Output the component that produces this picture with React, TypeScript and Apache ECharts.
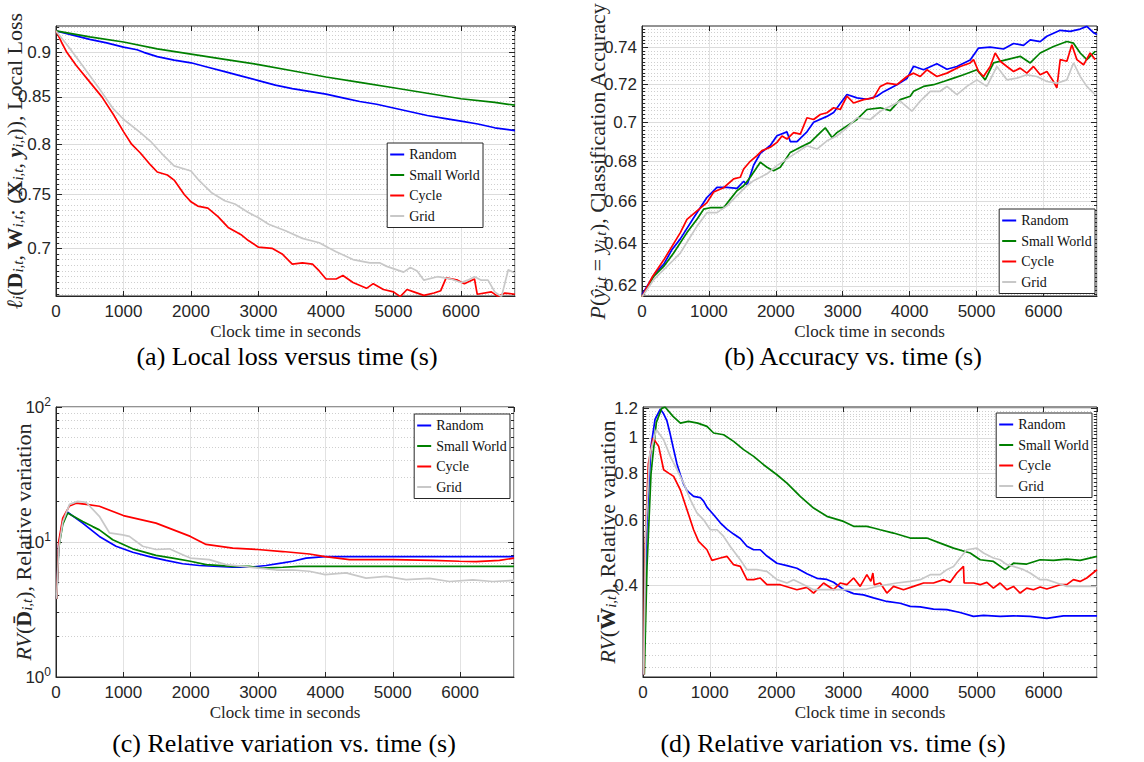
import React, { useEffect, useRef } from 'react';
import * as echarts from 'echarts';

// ---------- shared ----------
const seriesNames = ['Random', 'Small World', 'Cycle', 'Grid'];
const seriesColors = ['#0000ff', '#008000', '#ff0000', '#c8c8c8'];
const xMax = 6800;
const xTitle = 'Clock time in seconds';

// ---------- (a) local loss ----------
const lossRandom = [[0,0.925],[250,0.920],[500,0.915],[750,0.911],[1000,0.906],[1200,0.903],[1300,0.900],[1500,0.895],[1750,0.891],[2000,0.888],[2250,0.883],[2500,0.878],[2750,0.873],[3000,0.868],[3250,0.863],[3500,0.859],[3750,0.856],[4000,0.853],[4250,0.849],[4500,0.845],[4750,0.842],[5000,0.838],[5250,0.834],[5500,0.830],[5750,0.827],[6000,0.824],[6250,0.821],[6500,0.817],[6800,0.814]];
const lossSmallWorld = [[0,0.925],[500,0.918],[1000,0.912],[1500,0.904],[2000,0.898],[2500,0.892],[3000,0.886],[3500,0.879],[4000,0.872],[4500,0.866],[5000,0.860],[5500,0.854],[6000,0.848],[6500,0.844],[6800,0.841]];
const lossCycle = [[0,0.925],[80,0.912],[160,0.900],[300,0.885],[450,0.871],[680,0.850],[850,0.831],[1000,0.813],[1120,0.800],[1250,0.791],[1400,0.779],[1500,0.772],[1650,0.769],[1750,0.764],[1900,0.750],[2000,0.743],[2100,0.739],[2250,0.737],[2400,0.729],[2550,0.719],[2750,0.712],[2850,0.707],[3000,0.701],[3200,0.700],[3350,0.695],[3500,0.686],[3650,0.687],[3800,0.686],[3900,0.680],[4000,0.673],[4150,0.673],[4250,0.676],[4400,0.670],[4600,0.665],[4700,0.669],[4850,0.664],[5000,0.662],[5100,0.658],[5200,0.664],[5300,0.662],[5450,0.659],[5600,0.661],[5700,0.663],[5780,0.674],[5950,0.672],[6050,0.669],[6200,0.673],[6240,0.660],[6450,0.662],[6550,0.658],[6650,0.661],[6800,0.660]];
const lossGrid = [[0,0.925],[200,0.905],[400,0.884],[650,0.858],[850,0.837],[1000,0.826],[1250,0.812],[1400,0.803],[1600,0.788],[1750,0.778],[2000,0.773],[2100,0.765],[2300,0.752],[2500,0.744],[2650,0.741],[2850,0.733],[3000,0.728],[3150,0.722],[3400,0.716],[3650,0.709],[3900,0.705],[4050,0.700],[4150,0.697],[4400,0.690],[4650,0.687],[4800,0.687],[4900,0.684],[5150,0.679],[5250,0.683],[5350,0.680],[5450,0.672],[5650,0.675],[5850,0.673],[6000,0.670],[6100,0.672],[6200,0.675],[6300,0.672],[6400,0.672],[6500,0.662],[6600,0.658],[6700,0.681],[6800,0.678]];
const lossTicks = [0.7, 0.75, 0.8, 0.85, 0.9];
const lossRange = [0.6585, 0.9309];

// ---------- (b) accuracy ----------
const accRandom = [[0,0.616],[100,0.621],[200,0.626],[324,0.630],[450,0.637],[573,0.642],[770,0.652],[970,0.662],[1120,0.667],[1270,0.667],[1420,0.6665],[1520,0.670],[1570,0.668],[1668,0.678],[1768,0.684],[1917,0.688],[2017,0.693],[2166,0.695],[2216,0.690],[2316,0.690],[2465,0.695],[2565,0.700],[2764,0.703],[2864,0.705],[3063,0.7145],[3212,0.7127],[3362,0.712],[3511,0.7136],[3611,0.716],[3810,0.7197],[3959,0.723],[4059,0.7296],[4208,0.7277],[4407,0.731],[4557,0.728],[4706,0.7295],[4905,0.733],[5030,0.7395],[5204,0.740],[5403,0.739],[5553,0.742],[5702,0.741],[5802,0.744],[5951,0.743],[6051,0.746],[6250,0.7493],[6399,0.7487],[6549,0.750],[6648,0.7515],[6748,0.748],[6800,0.747]];
const accSmallWorld = [[0,0.615],[175,0.6244],[324,0.629],[473,0.6353],[672,0.645],[822,0.6514],[921,0.6563],[1021,0.657],[1220,0.657],[1320,0.6612],[1419,0.6653],[1519,0.6678],[1618,0.672],[1768,0.6795],[1868,0.677],[1967,0.6753],[2067,0.677],[2216,0.6845],[2366,0.6871],[2515,0.6896],[2664,0.6946],[2739,0.6971],[2839,0.6921],[2913,0.6946],[3063,0.698],[3212,0.7014],[3362,0.7066],[3561,0.7075],[3710,0.706],[3859,0.7118],[4009,0.7136],[4059,0.7162],[4208,0.7188],[4358,0.7197],[4507,0.7214],[4657,0.7232],[4806,0.725],[5005,0.7277],[5129,0.7223],[5254,0.7314],[5453,0.7332],[5652,0.735],[5802,0.7314],[5951,0.7368],[6150,0.7404],[6350,0.7431],[6449,0.7422],[6549,0.7368],[6648,0.7332],[6773,0.7377]];
const accCycle = [[0,0.615],[150,0.624],[324,0.632],[573,0.645],[672,0.6514],[822,0.6555],[971,0.6595],[1071,0.6647],[1220,0.6668],[1370,0.6712],[1469,0.672],[1519,0.6761],[1618,0.680],[1718,0.6829],[1793,0.6854],[1917,0.6871],[2017,0.6896],[2092,0.6929],[2166,0.6913],[2266,0.6946],[2366,0.6938],[2465,0.7023],[2565,0.7014],[2664,0.704],[2764,0.7049],[2864,0.7075],[2963,0.7066],[3063,0.7136],[3162,0.710],[3312,0.7118],[3461,0.7127],[3561,0.7188],[3660,0.7205],[3810,0.7197],[3959,0.7241],[4059,0.7259],[4158,0.7241],[4258,0.7277],[4407,0.7241],[4557,0.7259],[4756,0.7295],[4905,0.7314],[4955,0.7332],[5030,0.7268],[5104,0.7241],[5204,0.7295],[5279,0.7368],[5354,0.7323],[5453,0.7295],[5553,0.7268],[5652,0.7286],[5752,0.7259],[5851,0.7295],[5951,0.725],[6051,0.7268],[6150,0.7214],[6200,0.718],[6250,0.7332],[6350,0.7323],[6424,0.7413],[6499,0.7332],[6599,0.7304],[6698,0.7368],[6773,0.7332]];
const accGrid = [[0,0.615],[175,0.6229],[374,0.629],[573,0.6353],[822,0.6481],[971,0.6546],[1121,0.6546],[1270,0.6579],[1419,0.6629],[1569,0.6678],[1668,0.6703],[1868,0.6737],[2017,0.6778],[2166,0.6812],[2316,0.6845],[2465,0.6879],[2615,0.6862],[2764,0.6904],[2913,0.6929],[3063,0.6971],[3212,0.7023],[3411,0.7014],[3561,0.7057],[3710,0.7083],[3859,0.711],[4034,0.7057],[4158,0.711],[4308,0.7162],[4457,0.7162],[4557,0.7188],[4706,0.7144],[4855,0.7188],[5005,0.7223],[5154,0.7188],[5304,0.7295],[5453,0.7223],[5603,0.7232],[5752,0.725],[5901,0.7241],[6051,0.7214],[6200,0.7205],[6350,0.7223],[6449,0.7314],[6549,0.7241],[6648,0.7188],[6773,0.7144]];
const accTicks = [0.62, 0.64, 0.66, 0.68, 0.7, 0.72, 0.74];
const accRange = [0.6154, 0.7517];

// ---------- (c) relative variation of D ----------
const rvdRandom = [[10,3.8],[40,9.5],[100,14],[173,16.6],[396,13.8],[644,11.0],[891,9.3],[1139,8.4],[1386,7.8],[1634,7.3],[1881,6.9],[2129,6.7],[2624,6.5],[2871,6.5],[3119,6.7],[3366,7.0],[3515,7.2],[3713,7.6],[3995,7.8],[5000,7.8],[6800,7.8]];
const rvdSmallWorld = [[10,3.8],[40,9],[100,13.5],[173,16.4],[396,14.2],[545,13.0],[644,12.3],[842,10.4],[1139,8.9],[1485,7.96],[1733,7.6],[1995,7.2],[2228,6.8],[2624,6.6],[2871,6.6],[3069,6.4],[3366,6.5],[3614,6.6],[6800,6.6]];
const rvdCycle = [[10,3.8],[40,10],[100,15],[200,18.5],[300,19.4],[450,19.0],[644,18.4],[1000,15.7],[1485,13.8],[1995,11.0],[2228,9.6],[2624,9.0],[2995,8.8],[3366,8.5],[3762,8.15],[3995,7.8],[4356,7.4],[5000,7.4],[5594,7.3],[5990,7.2],[6238,7.15],[6584,7.3],[6800,7.6]];
const rvdGrid = [[10,3.8],[40,9],[100,14],[200,19],[322,20.0],[446,19.7],[644,15.5],[792,11.7],[990,11.3],[1089,11.0],[1287,9.3],[1485,8.8],[1683,8.9],[1881,8.05],[1995,7.6],[2277,7.4],[2525,6.8],[2772,6.6],[3020,6.4],[3267,6.2],[3515,6.2],[3762,6.07],[3995,5.73],[4307,5.9],[4604,5.4],[4901,5.56],[5198,5.27],[5545,5.38],[5842,5.1],[6188,5.25],[6485,5.1],[6800,5.2]];
const rvdTicks = [1, 10, 100];
const rvdRange = [1, 100];

// ---------- (d) relative variation of W ----------
const rvwRandom = [[10,0.23],[60,0.6],[120,0.95],[180,1.12],[259,1.195],[309,1.16],[359,1.11],[409,1.02],[459,0.93],[509,0.85],[559,0.795],[609,0.75],[659,0.72],[758,0.695],[858,0.69],[908,0.675],[958,0.65],[1058,0.62],[1158,0.59],[1257,0.567],[1357,0.55],[1457,0.535],[1557,0.51],[1657,0.499],[1756,0.499],[1856,0.48],[2006,0.459],[2156,0.452],[2305,0.445],[2455,0.43],[2605,0.418],[2754,0.415],[2854,0.408],[3004,0.39],[3154,0.38],[3303,0.377],[3453,0.37],[3652,0.362],[3852,0.358],[4002,0.351],[4152,0.35],[4351,0.345],[4551,0.344],[4750,0.338],[4950,0.33],[5100,0.332],[5349,0.33],[5549,0.331],[5798,0.33],[6048,0.326],[6298,0.331],[6547,0.331],[6800,0.331]];
const rvwSmallWorld = [[20,0.23],[60,0.45],[120,0.8],[200,1.1],[280,1.2],[330,1.21],[450,1.142],[560,1.095],[680,1.107],[820,1.095],[958,1.073],[1058,1.03],[1208,1.019],[1357,0.978],[1507,0.929],[1657,0.891],[1806,0.846],[2006,0.795],[2156,0.755],[2355,0.695],[2555,0.6465],[2754,0.614],[3004,0.595],[3154,0.577],[3353,0.577],[3453,0.571],[3553,0.565],[3752,0.5535],[4002,0.5366],[4251,0.5366],[4451,0.520],[4651,0.504],[4900,0.489],[5050,0.469],[5249,0.464],[5424,0.441],[5549,0.459],[5748,0.4566],[5948,0.469],[6148,0.467],[6347,0.471],[6547,0.467],[6800,0.479]];
const rvwCycle = [[10,0.23],[30,0.5],[80,0.85],[150,0.998],[235,0.948],[309,0.82],[384,0.803],[459,0.787],[559,0.724],[659,0.64],[758,0.565],[833,0.5256],[958,0.499],[1033,0.467],[1158,0.474],[1257,0.479],[1357,0.4548],[1457,0.450],[1557,0.4144],[1657,0.4144],[1756,0.4187],[1856,0.4017],[2056,0.4017],[2305,0.3894],[2455,0.395],[2555,0.3814],[2705,0.4059],[2854,0.3894],[2954,0.4059],[3054,0.4017],[3154,0.4187],[3253,0.3975],[3353,0.4275],[3413,0.41],[3443,0.4319],[3463,0.4017],[3553,0.4059],[3653,0.3814],[3752,0.3975],[3902,0.3894],[4052,0.3975],[4202,0.4059],[4351,0.4059],[4501,0.4144],[4601,0.4076],[4701,0.4319],[4800,0.450],[4810,0.4059],[4950,0.4059],[5050,0.4017],[5150,0.4076],[5249,0.3934],[5349,0.4059],[5449,0.3894],[5549,0.3975],[5649,0.3814],[5748,0.3934],[5848,0.3894],[5948,0.396],[6048,0.391],[6248,0.4017],[6347,0.4017],[6447,0.4144],[6547,0.410],[6647,0.4187],[6800,0.4408]];
const rvwGrid = [[10,0.23],[40,0.55],[100,0.9],[200,1.051],[309,0.988],[409,0.891],[509,0.82],[609,0.755],[709,0.681],[808,0.627],[908,0.601],[1008,0.565],[1108,0.565],[1208,0.542],[1307,0.509],[1457,0.469],[1557,0.441],[1707,0.441],[1856,0.4363],[2006,0.4144],[2156,0.406],[2255,0.4144],[2355,0.406],[2555,0.3894],[2754,0.3894],[2954,0.3894],[3154,0.3894],[3353,0.391],[3553,0.399],[3802,0.406],[4002,0.410],[4152,0.4144],[4301,0.4275],[4451,0.4275],[4551,0.441],[4651,0.450],[4750,0.474],[4850,0.499],[5000,0.504],[5100,0.489],[5249,0.474],[5349,0.469],[5449,0.455],[5549,0.450],[5699,0.441],[5798,0.432],[5948,0.4144],[6048,0.4144],[6198,0.406],[6347,0.3975],[6547,0.3975],[6800,0.3975]];
const rvwTicks = [0.4, 0.6, 0.8, 1, 1.2];
const rvwRange = [0.2265, 1.2104];

// ---------- helpers ----------
function steps(a: number, b: number, s: number): number[] {
  const out: number[] = [];
  const n = Math.round((b - a) / s);
  for (let i = 0; i <= n; i++) out.push(Math.round((a + i * s) * 1e6) / 1e6);
  return out;
}
const logMinor = [2, 3, 4, 5, 6, 7, 8, 9, 20, 30, 40, 50, 60, 70, 80, 90];

const sans = '"Liberation Sans Narrow", "Liberation Sans", Arial, sans-serif';
const serif = '"Liberation Serif", "Times New Roman", serif';
const dark = '#262626';
const NF = 22; // y-title font size

const nameRich = {
  it: { fontFamily: serif, fontSize: NF, fontStyle: 'italic', color: dark },
  bf: { fontFamily: serif, fontSize: NF, fontWeight: 'bold', color: dark },
  bfi: { fontFamily: serif, fontSize: NF, fontWeight: 'bold', fontStyle: 'italic', color: dark },
  sub: { fontFamily: serif, fontSize: 15, fontStyle: 'italic', color: dark, padding: [7, 0, 0, 0] },
};

const panels = [
  {
    left: 56, top: 26, width: 459, height: 270,
    range: lossRange, major: lossTicks, minor: steps(0.66, 0.93, 0.005),
    data: [lossRandom, lossSmallWorld, lossCycle, lossGrid],
    yName: '{it|ℓ}{sub|i}({bf|D}{sub|i,t}, {bf|W}{sub|i,t}; ({bf|X}{sub|i,t}, {bfi|y}{sub|i,t})), Local Loss',
    yGap: 31, legendRight: 661, legendTop: 143,
    caption: '(a) Local loss versus time (s)', capX: 287, capY: 356, sup: false,
  },
  {
    left: 642, top: 26, width: 455, height: 270,
    range: accRange, major: accTicks, minor: steps(0.616, 0.75, 0.002),
    data: [accRandom, accSmallWorld, accCycle, accGrid],
    yName: '{it|P}({it|ŷ}{sub|i,t} = {it|y}{sub|i,t}), Classification Accuracy',
    yGap: 34, legendRight: 49, legendTop: 209,
    caption: '(b) Accuracy vs. time (s)', capX: 853, capY: 356, sup: false,
  },
  {
    left: 56, top: 407, width: 458, height: 270,
    range: rvdRange, major: rvdTicks, minor: logMinor,
    data: [rvdRandom, rvdSmallWorld, rvdCycle, rvdGrid],
    yName: '{it|RV}({bf|D̄}{sub|i,t}), Relative variation',
    yGap: 22, legendRight: 634, legendTop: 414,
    caption: '(c) Relative variation vs. time (s)', capX: 284, capY: 743, sup: true,
  },
  {
    left: 643, top: 407, width: 454, height: 270,
    range: rvwRange, major: rvwTicks, minor: steps(0.24, 1.2, 0.02),
    data: [rvwRandom, rvwSmallWorld, rvwCycle, rvwGrid],
    yName: '{it|RV}({bf|W̄}{sub|i,t}), Relative variation',
    yGap: 25, legendRight: 52, legendTop: 413,
    caption: '(d) Relative variation vs. time (s)', capX: 833, capY: 743, sup: false,
  },
];

function buildOption() {
  const grid: any[] = [];
  const xAxis: any[] = [];
  const yAxis: any[] = [];
  const series: any[] = [];
  const legend: any[] = [];
  const graphic: any[] = [];

  panels.forEach((p, gi) => {
    grid.push({
      left: p.left, top: p.top, width: p.width, height: p.height,
      show: true, borderColor: dark, borderWidth: 1, backgroundColor: '#ffffff',
    });
    const xi = xAxis.length;
    xAxis.push({
      type: 'value', gridIndex: gi, min: 0, max: xMax, interval: 1000, position: 'bottom',
      name: xTitle, nameLocation: 'middle', nameGap: 27,
      nameTextStyle: { fontFamily: serif, fontSize: 17, color: dark },
      axisLine: { show: true, onZero: false, lineStyle: { color: dark } },
      axisTick: { show: true, inside: true, length: 5, lineStyle: { color: dark } },
      axisLabel: {
        showMaxLabel: false, margin: 7, fontFamily: sans, fontSize: 17, color: dark,
        formatter: (v: number) => String(v),
      },
      splitLine: { show: true, lineStyle: { color: '#e2e2e2', width: 1 } },
    });
    xAxis.push({
      type: 'value', gridIndex: gi, min: 0, max: xMax, interval: 1000, position: 'top',
      axisLine: { show: false, onZero: false },
      axisTick: { show: true, inside: true, length: 5, lineStyle: { color: dark } },
      axisLabel: { show: false }, splitLine: { show: false },
    });

    const lmin = Math.log10(p.range[0]);
    const lmax = Math.log10(p.range[1]);
    const majorLog = p.major.map((v) => Math.log10(v));
    const minorVals = p.minor.filter(
      (v) => v > p.range[0] && v < p.range[1] && !p.major.some((m) => Math.abs(m - v) < 1e-6)
    );
    const minorLog = minorVals.map((v) => Math.log10(v));

    const yi = yAxis.length;
    // data axis (logarithmic)
    yAxis.push({ type: 'log', logBase: 10, gridIndex: gi, min: p.range[0], max: p.range[1], show: false });

    const fmt = (v: number) => {
      const val = Math.pow(10, v);
      const lab = p.major.reduce((a, b) => (Math.abs(b - val) < Math.abs(a - val) ? b : a));
      if (p.sup) return '{b|10}{s|' + Math.round(Math.log10(lab)) + '}';
      return String(lab);
    };
    // major labels/grid
    yAxis.push({
      type: 'value', gridIndex: gi, min: lmin, max: lmax, position: 'left',
      name: p.yName, nameLocation: 'middle', nameGap: p.yGap, nameMoveOverlap: false,
      nameTextStyle: { fontFamily: serif, fontSize: NF, color: dark, rich: nameRich },
      axisLine: { show: true, onZero: false, lineStyle: { color: dark } },
      axisTick: { show: true, inside: true, length: 6, customValues: majorLog, lineStyle: { color: dark } },
      axisLabel: {
        customValues: majorLog, formatter: fmt, margin: 5, fontFamily: sans, fontSize: 17, color: dark,
        rich: {
          b: { fontFamily: sans, fontSize: 17, color: dark },
          s: { fontFamily: sans, fontSize: 12, color: dark, padding: [0, 0, 10, 0] },
        },
      },
      splitLine: { show: true, lineStyle: { color: '#dcdcdc', width: 1 } },
    });
    // minor grid
    yAxis.push({
      type: 'value', gridIndex: gi, min: lmin, max: lmax, position: 'left',
      axisLine: { show: false, onZero: false },
      axisTick: { show: true, inside: true, length: 3, customValues: minorLog, lineStyle: { color: dark } },
      axisLabel: { show: false },
      splitLine: { show: true, lineStyle: { color: '#cfcfcf', width: 1, type: [1, 2] } },
    });
    // right side ticks
    yAxis.push({
      type: 'value', gridIndex: gi, min: lmin, max: lmax, position: 'right',
      axisLine: { show: false, onZero: false },
      axisTick: { show: true, inside: true, length: 6, customValues: majorLog, lineStyle: { color: dark } },
      axisLabel: { show: false }, splitLine: { show: false },
    });
    yAxis.push({
      type: 'value', gridIndex: gi, min: lmin, max: lmax, position: 'right',
      axisLine: { show: false, onZero: false },
      axisTick: { show: true, inside: true, length: 3, customValues: minorLog, lineStyle: { color: dark } },
      axisLabel: { show: false }, splitLine: { show: false },
    });

    p.data.forEach((d, k) => {
      series.push({
        type: 'line', name: seriesNames[k], xAxisIndex: xi, yAxisIndex: yi, data: d,
        showSymbol: false, symbol: 'none', silent: true,
        lineStyle: { width: 1.7, color: seriesColors[k] },
        itemStyle: { color: seriesColors[k] },
        emphasis: { disabled: true },
      });
    });

    legend.push({
      orient: 'vertical', right: p.legendRight, top: p.legendTop, data: seriesNames,
      icon: 'rect', itemWidth: 14, itemHeight: 2, itemGap: 5.5, padding: [4, 3, 4, 3],
      borderColor: dark, borderWidth: 1, backgroundColor: '#ffffff', selectedMode: false,
      textStyle: { fontFamily: serif, fontSize: 14, lineHeight: 15, color: '#111' },
      z: 10,
    });

    graphic.push({
      type: 'text', x: p.capX, y: p.capY, silent: true,
      style: {
        text: p.caption, fontFamily: serif, fontSize: 26, fill: '#000',
        align: 'center', verticalAlign: 'middle',
      },
    });
  });

  return { animation: false, backgroundColor: '#ffffff', grid, xAxis, yAxis, series, legend, graphic };
}

export default function App() {
  const ref = useRef<HTMLDivElement>(null);
  useEffect(() => {
    if (!ref.current) return;
    const chart = echarts.init(ref.current, null, { renderer: 'svg' });
    chart.setOption(buildOption() as any);
    return () => chart.dispose();
  }, []);
  return (
    <div
      ref={ref}
      style={{ position: 'fixed', left: 0, top: 0, width: 1144, height: 762, background: '#ffffff' }}
    />
  );
}
